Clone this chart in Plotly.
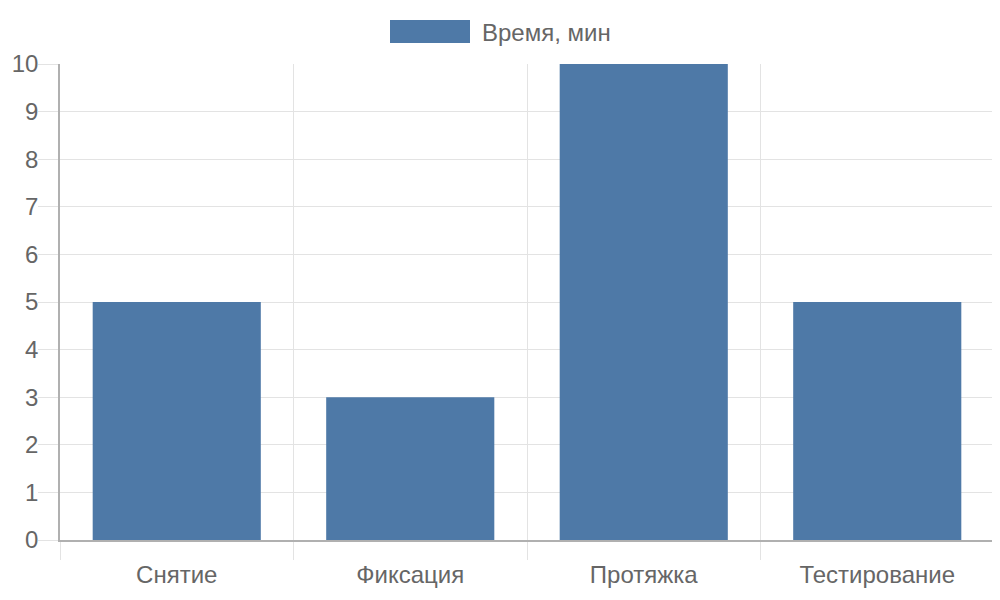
import plotly.graph_objects as go

# data
stages = ['Снятие', 'Фиксация', 'Протяжка', 'Тестирование']
minutes = [5, 3, 10, 5]
series_name = 'Время, мин'

BAR = '#4e79a7'
TEXT = '#666666'
GRID = '#e3e3e3'
AXIS = '#b0b0b0'
FONT = 'Liberation Sans, Arial, sans-serif'

# the page body has an 8px margin on top/left, so shrink the figure to fit
OFF = 8
W, H = 1000 - OFF, 600 - OFF
L, R, T, B = 60 - OFF, 6, 64 - OFF, 60
pw, ph = W - L - R, H - T - B


def px_x(x):
    return (x - OFF - L) / pw


def px_y(y):
    return 1 + (T + OFF - y) / ph


fig = go.Figure(go.Bar(x=stages, y=minutes, name=series_name,
                       marker=dict(color=BAR, line=dict(width=0)),
                       showlegend=False))

fig.update_layout(
    width=W, height=H,
    margin=dict(l=L, r=R, t=T, b=B, pad=0),
    plot_bgcolor='white', paper_bgcolor='white',
    bargap=0.28,
    font=dict(family=FONT, size=24, color=TEXT),
)

fig.update_xaxes(
    type='category', tickson='boundaries',
    showgrid=True, gridcolor=GRID, gridwidth=1,
    ticks='outside', ticklen=18, tickcolor=GRID,
    showline=True, linecolor=AXIS, linewidth=1.5,
    tickfont=dict(size=24, color=TEXT),
    ticklabelstandoff=12,
    zeroline=False, automargin=False,
)
fig.update_yaxes(
    range=[0, 10], dtick=1, tick0=0,
    showgrid=True, gridcolor=GRID, gridwidth=1,
    ticks='outside', ticklen=20, tickcolor=GRID,
    showline=True, linecolor=AXIS, linewidth=1.5,
    zeroline=False, automargin=False,
    tickfont=dict(size=24, color=TEXT),
    ticklabelstandoff=-5,
)

# chart.js style legend: wide swatch + label above the plot
fig.add_shape(type='rect', xref='paper', yref='paper',
              x0=px_x(390), x1=px_x(470), y0=px_y(43), y1=px_y(20),
              fillcolor=BAR, line=dict(width=0))
fig.add_annotation(xref='paper', yref='paper', x=px_x(480), y=px_y(32),
                   xanchor='left', yanchor='middle', showarrow=False,
                   text=series_name, font=dict(size=24, color=TEXT))

fig.write_html('out.html')
